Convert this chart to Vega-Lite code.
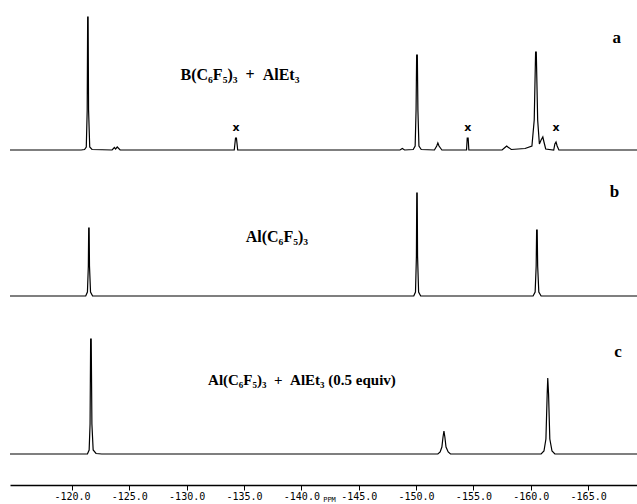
{
  "$schema": "https://vega.github.io/schema/vega-lite/v6.json",
  "padding": {"left": 10, "top": 0, "right": 0, "bottom": 0},
  "width": 627,
  "height": 485,
  "background": "white",
  "config": {"view": {"stroke": null}},
  "datasets": {
    "spec": [
      {"s": "a", "ppm": -114.6, "i": 0}, {"s": "a", "ppm": -120.8, "i": 0},
      {"s": "a", "ppm": -121.1, "i": 0.5}, {"s": "a", "ppm": -121.25, "i": 3},
      {"s": "a", "ppm": -121.33, "i": 40}, {"s": "a", "ppm": -121.37, "i": 133},
      {"s": "a", "ppm": -121.41, "i": 133}, {"s": "a", "ppm": -121.45, "i": 40},
      {"s": "a", "ppm": -121.55, "i": 3}, {"s": "a", "ppm": -121.75, "i": 0.5},
      {"s": "a", "ppm": -123.5, "i": 0}, {"s": "a", "ppm": -123.7, "i": 2.5},
      {"s": "a", "ppm": -123.8, "i": 1}, {"s": "a", "ppm": -123.95, "i": 3},
      {"s": "a", "ppm": -124.2, "i": 0}, {"s": "a", "ppm": -134.15, "i": 0},
      {"s": "a", "ppm": -134.26, "i": 12}, {"s": "a", "ppm": -134.34, "i": 12},
      {"s": "a", "ppm": -134.45, "i": 0}, {"s": "a", "ppm": -148.6, "i": 0},
      {"s": "a", "ppm": -148.8, "i": 1.5}, {"s": "a", "ppm": -149.0, "i": 0},
      {"s": "a", "ppm": -149.75, "i": 0.5}, {"s": "a", "ppm": -149.92, "i": 4},
      {"s": "a", "ppm": -150.0, "i": 40}, {"s": "a", "ppm": -150.05, "i": 95},
      {"s": "a", "ppm": -150.11, "i": 95}, {"s": "a", "ppm": -150.16, "i": 40},
      {"s": "a", "ppm": -150.25, "i": 4}, {"s": "a", "ppm": -150.45, "i": 0.5},
      {"s": "a", "ppm": -151.6, "i": 0}, {"s": "a", "ppm": -151.8, "i": 4},
      {"s": "a", "ppm": -151.9, "i": 7}, {"s": "a", "ppm": -152.0, "i": 4},
      {"s": "a", "ppm": -152.25, "i": 0}, {"s": "a", "ppm": -154.4, "i": 0},
      {"s": "a", "ppm": -154.46, "i": 12}, {"s": "a", "ppm": -154.54, "i": 12},
      {"s": "a", "ppm": -154.6, "i": 0}, {"s": "a", "ppm": -157.5, "i": 0},
      {"s": "a", "ppm": -157.8, "i": 3}, {"s": "a", "ppm": -157.9, "i": 4},
      {"s": "a", "ppm": -158.0, "i": 3}, {"s": "a", "ppm": -158.3, "i": 0.5},
      {"s": "a", "ppm": -159.5, "i": 1.5}, {"s": "a", "ppm": -160.1, "i": 4},
      {"s": "a", "ppm": -160.3, "i": 30}, {"s": "a", "ppm": -160.42, "i": 98},
      {"s": "a", "ppm": -160.48, "i": 98}, {"s": "a", "ppm": -160.6, "i": 30},
      {"s": "a", "ppm": -160.75, "i": 6}, {"s": "a", "ppm": -160.9, "i": 10},
      {"s": "a", "ppm": -161.05, "i": 13}, {"s": "a", "ppm": -161.15, "i": 8},
      {"s": "a", "ppm": -161.3, "i": 1}, {"s": "a", "ppm": -162.0, "i": 0},
      {"s": "a", "ppm": -162.1, "i": 6}, {"s": "a", "ppm": -162.2, "i": 8},
      {"s": "a", "ppm": -162.3, "i": 4}, {"s": "a", "ppm": -162.45, "i": 0},
      {"s": "a", "ppm": -169.26, "i": 0},

      {"s": "b", "ppm": -114.6, "i": 0}, {"s": "b", "ppm": -121.2, "i": 0},
      {"s": "b", "ppm": -121.35, "i": 4}, {"s": "b", "ppm": -121.43, "i": 30},
      {"s": "b", "ppm": -121.46, "i": 68}, {"s": "b", "ppm": -121.5, "i": 68},
      {"s": "b", "ppm": -121.53, "i": 30}, {"s": "b", "ppm": -121.62, "i": 4},
      {"s": "b", "ppm": -121.8, "i": 0}, {"s": "b", "ppm": -149.8, "i": 0},
      {"s": "b", "ppm": -149.95, "i": 4}, {"s": "b", "ppm": -150.03, "i": 40},
      {"s": "b", "ppm": -150.06, "i": 103}, {"s": "b", "ppm": -150.1, "i": 103},
      {"s": "b", "ppm": -150.13, "i": 40}, {"s": "b", "ppm": -150.22, "i": 4},
      {"s": "b", "ppm": -150.4, "i": 0}, {"s": "b", "ppm": -160.2, "i": 0},
      {"s": "b", "ppm": -160.38, "i": 4}, {"s": "b", "ppm": -160.47, "i": 30},
      {"s": "b", "ppm": -160.51, "i": 66}, {"s": "b", "ppm": -160.56, "i": 66},
      {"s": "b", "ppm": -160.6, "i": 30}, {"s": "b", "ppm": -160.7, "i": 4},
      {"s": "b", "ppm": -160.9, "i": 0}, {"s": "b", "ppm": -169.26, "i": 0},

      {"s": "c", "ppm": -114.6, "i": 0}, {"s": "c", "ppm": -121.35, "i": 0},
      {"s": "c", "ppm": -121.5, "i": 4}, {"s": "c", "ppm": -121.58, "i": 30},
      {"s": "c", "ppm": -121.63, "i": 115}, {"s": "c", "ppm": -121.68, "i": 115},
      {"s": "c", "ppm": -121.74, "i": 30}, {"s": "c", "ppm": -121.85, "i": 4},
      {"s": "c", "ppm": -122.1, "i": 0.5}, {"s": "c", "ppm": -122.6, "i": 0},
      {"s": "c", "ppm": -151.9, "i": 0}, {"s": "c", "ppm": -152.1, "i": 2},
      {"s": "c", "ppm": -152.25, "i": 7}, {"s": "c", "ppm": -152.35, "i": 17},
      {"s": "c", "ppm": -152.43, "i": 23}, {"s": "c", "ppm": -152.51, "i": 17},
      {"s": "c", "ppm": -152.61, "i": 7}, {"s": "c", "ppm": -152.8, "i": 2},
      {"s": "c", "ppm": -153.0, "i": 0}, {"s": "c", "ppm": -160.9, "i": 0},
      {"s": "c", "ppm": -161.15, "i": 3}, {"s": "c", "ppm": -161.32, "i": 15},
      {"s": "c", "ppm": -161.43, "i": 60}, {"s": "c", "ppm": -161.48, "i": 76},
      {"s": "c", "ppm": -161.55, "i": 60}, {"s": "c", "ppm": -161.66, "i": 15},
      {"s": "c", "ppm": -161.85, "i": 3}, {"s": "c", "ppm": -162.1, "i": 0},
      {"s": "c", "ppm": -169.26, "i": 0}
    ]
  },
  "resolve": {"scale": {"y": "independent"}},
  "layer": [
    {
      "data": {"name": "spec"},
      "transform": [{"filter": "datum.s === 'a'"}],
      "mark": {"type": "line", "color": "black", "strokeWidth": 1.2, "clip": true},
      "encoding": {
        "x": {
          "field": "ppm", "type": "quantitative",
          "scale": {"domain": [-169.26, -114.6], "reverse": true, "nice": false, "zero": false},
          "axis": {
            "orient": "bottom",
            "values": [-120, -125, -130, -135, -140, -145, -150, -155, -160, -165],
            "grid": false,
            "domainColor": "black",
            "domainWidth": 1.4,
            "tickColor": "black",
            "tickWidth": 1,
            "tickSize": 5,
            "labelExpr": "replace(format(datum.value, '.1f'), '−', '-')",
            "labelFont": "DejaVu Sans Mono",
            "labelFontSize": 10,
            "labelColor": "black",
            "labelPadding": 1,
            "labelOverlap": false,
            "labelFlush": false,
            "title": "PPM",
            "titleFont": "DejaVu Sans Mono",
            "titleFontSize": 7,
            "titleFontWeight": "normal",
            "titleColor": "black",
            "titleX": 319,
            "titleY": 10,
            "titleBaseline": "top"
          }
        },
        "y": {"field": "i", "type": "quantitative", "scale": {"domain": [-335, 150], "nice": false, "zero": false}, "axis": null}
      }
    },
    {
      "data": {"name": "spec"},
      "transform": [{"filter": "datum.s === 'b'"}],
      "mark": {"type": "line", "color": "black", "strokeWidth": 1.2, "clip": true},
      "encoding": {
        "x": {"field": "ppm", "type": "quantitative"},
        "y": {"field": "i", "type": "quantitative", "scale": {"domain": [-189, 296], "nice": false, "zero": false}, "axis": null}
      }
    },
    {
      "data": {"name": "spec"},
      "transform": [{"filter": "datum.s === 'c'"}],
      "mark": {"type": "line", "color": "black", "strokeWidth": 1.2, "clip": true},
      "encoding": {
        "x": {"field": "ppm", "type": "quantitative"},
        "y": {"field": "i", "type": "quantitative", "scale": {"domain": [-31, 454], "nice": false, "zero": false}, "axis": null}
      }
    },
    {
      "data": {"values": [{}]},
      "mark": {"type": "text", "text": "B(C₆F₅)₃ \u00a0+ \u00a0AlEt₃", "font": "Liberation Serif", "fontWeight": "bold", "fontSize": 16, "color": "black", "align": "center", "baseline": "middle"},
      "encoding": {"x": {"datum": -134.65, "type": "quantitative"}, "y": {"datum": 75, "type": "quantitative", "scale": {"domain": [-335, 150], "nice": false, "zero": false}, "axis": null}}
    },
    {
      "data": {"values": [{}]},
      "mark": {"type": "text", "text": "a", "font": "Liberation Serif", "fontWeight": "bold", "fontSize": 17, "color": "black", "align": "center", "baseline": "middle"},
      "encoding": {"x": {"datum": -167.5, "type": "quantitative"}, "y": {"datum": 112, "type": "quantitative", "scale": {"domain": [-335, 150], "nice": false, "zero": false}, "axis": null}}
    },
    {
      "data": {"values": [{"p": -134.3}, {"p": -154.5}, {"p": -162.2}]},
      "mark": {"type": "text", "text": "x", "font": "DejaVu Sans", "fontWeight": "bold", "fontSize": 11, "color": "black", "align": "center", "baseline": "middle"},
      "encoding": {"x": {"field": "p", "type": "quantitative"}, "y": {"datum": 22.5, "type": "quantitative", "scale": {"domain": [-335, 150], "nice": false, "zero": false}, "axis": null}}
    },
    {
      "data": {"values": [{}]},
      "mark": {"type": "text", "text": "Al(C₆F₅)₃", "font": "Liberation Serif", "fontWeight": "bold", "fontSize": 16, "color": "black", "align": "center", "baseline": "middle"},
      "encoding": {"x": {"datum": -137.87, "type": "quantitative"}, "y": {"datum": 59, "type": "quantitative", "scale": {"domain": [-189, 296], "nice": false, "zero": false}, "axis": null}}
    },
    {
      "data": {"values": [{}]},
      "mark": {"type": "text", "text": "b", "font": "Liberation Serif", "fontWeight": "bold", "fontSize": 17, "color": "black", "align": "center", "baseline": "middle"},
      "encoding": {"x": {"datum": -167.3, "type": "quantitative"}, "y": {"datum": 104, "type": "quantitative", "scale": {"domain": [-189, 296], "nice": false, "zero": false}, "axis": null}}
    },
    {
      "data": {"values": [{}]},
      "mark": {"type": "text", "text": "Al(C₆F₅)₃ \u00a0+ \u00a0AlEt₃ (0.5 equiv)", "font": "Liberation Serif", "fontWeight": "bold", "fontSize": 15, "color": "black", "align": "center", "baseline": "middle"},
      "encoding": {"x": {"datum": -140.05, "type": "quantitative"}, "y": {"datum": 74, "type": "quantitative", "scale": {"domain": [-31, 454], "nice": false, "zero": false}, "axis": null}}
    },
    {
      "data": {"values": [{}]},
      "mark": {"type": "text", "text": "c", "font": "Liberation Serif", "fontWeight": "bold", "fontSize": 17, "color": "black", "align": "center", "baseline": "middle"},
      "encoding": {"x": {"datum": -167.6, "type": "quantitative"}, "y": {"datum": 102, "type": "quantitative", "scale": {"domain": [-31, 454], "nice": false, "zero": false}, "axis": null}}
    }
  ]
}
